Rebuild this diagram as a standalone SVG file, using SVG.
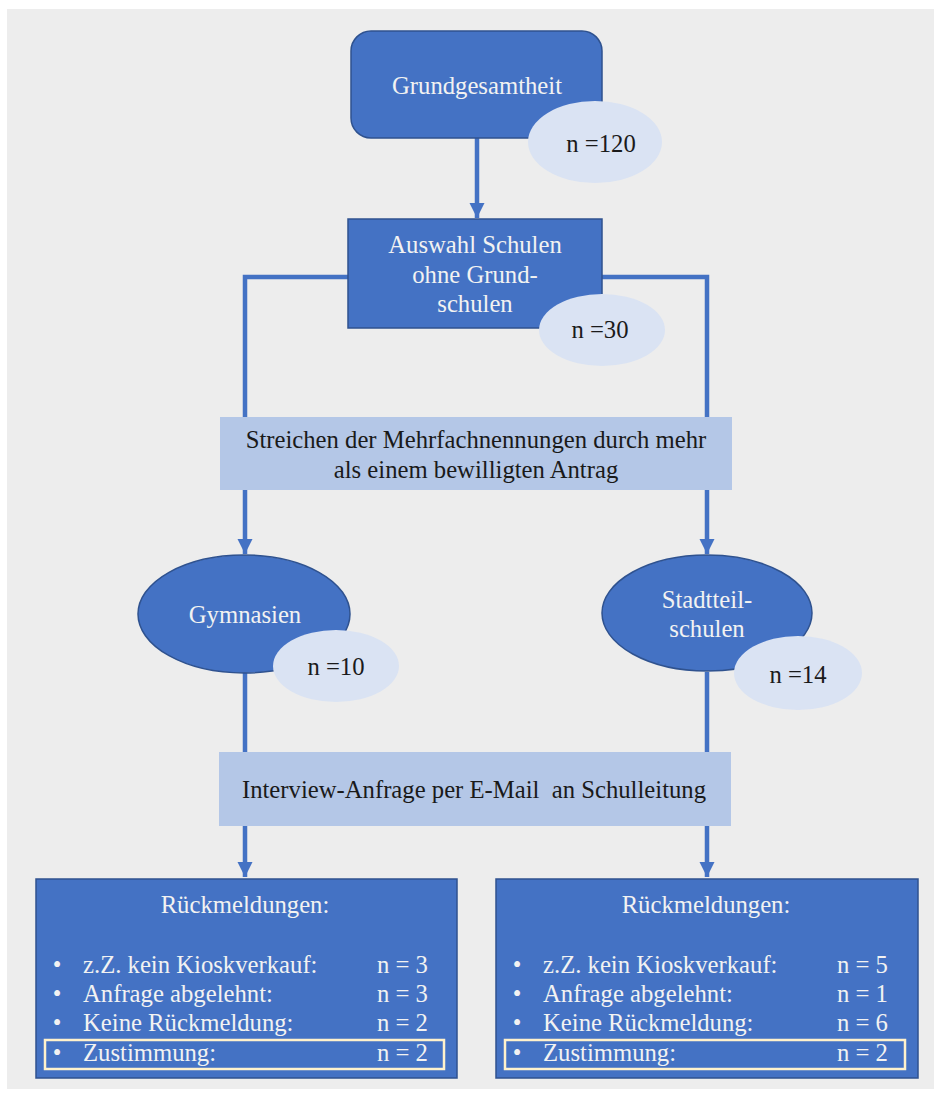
<svg xmlns="http://www.w3.org/2000/svg" width="941" height="1095" viewBox="0 0 941 1095" font-family="'Liberation Serif', 'Times New Roman', serif">
<defs>
<style>
.dark{fill:#4472C4;stroke:#2F528F;stroke-width:1.5}
.light{fill:#DAE3F3;stroke:none}
.band{fill:#B4C7E7;stroke:none}
.con{fill:none;stroke:#4472C4;stroke-width:4.5}
text{font-family:'Liberation Serif','Times New Roman',serif;font-size:24.7px}
.w{fill:#F2F2F2}
.k{fill:#1A1A1A}
.mid{text-anchor:middle}
.hl{fill:none;stroke:#FFF2CC;stroke-width:2.5}
</style>
<marker id="arr" viewBox="0 0 10 10" refX="10" refY="5" markerWidth="3.4" markerHeight="3.4" markerUnits="strokeWidth" orient="auto">
<path d="M0,0 L10,5 L0,10 z" fill="#4472C4"/>
</marker>
</defs>
<rect x="7" y="9" width="927" height="1080" fill="#EDEDED"/>
<g id="connectors">
<path class="con" d="M477,138 V218" marker-end="url(#arr)"/>
<path class="con" d="M348,277 H245 V554" marker-end="url(#arr)"/>
<path class="con" d="M602,277 H707 V554" marker-end="url(#arr)"/>
<path class="con" d="M245,673 V877" marker-end="url(#arr)"/>
<path class="con" d="M707,672 V877" marker-end="url(#arr)"/>
</g>
<g id="grundgesamtheit">
<rect class="dark" x="351" y="31" width="251" height="107" rx="20"/>
<text class="w mid" x="477" y="94">Grundgesamtheit</text>
<ellipse class="light" cx="595" cy="142" rx="67" ry="41"/>
<text class="k mid" x="601" y="152">n =120</text>
</g>
<g id="auswahl">
<rect class="dark" x="348" y="219" width="254" height="109"/>
<text class="w mid" x="475" y="253">Auswahl Schulen</text>
<text class="w mid" x="475" y="283">ohne Grund-</text>
<text class="w mid" x="475" y="312">schulen</text>
<ellipse class="light" cx="602" cy="330" rx="63" ry="36"/>
<text class="k mid" x="600" y="338">n =30</text>
</g>
<g id="streichen">
<rect class="band" x="220" y="417" width="512" height="73"/>
<text class="k mid" x="476" y="448">Streichen der Mehrfachnennungen durch mehr</text>
<text class="k mid" x="476" y="478">als einem bewilligten Antrag</text>
</g>
<g id="gymnasien">
<ellipse class="dark" cx="244" cy="614" rx="106" ry="59"/>
<text class="w mid" x="245" y="623">Gymnasien</text>
<ellipse class="light" cx="336" cy="666" rx="63" ry="36"/>
<text class="k mid" x="336" y="675">n =10</text>
</g>
<g id="stadtteilschulen">
<ellipse class="dark" cx="707" cy="613" rx="105" ry="58"/>
<text class="w mid" x="707" y="608">Stadtteil-</text>
<text class="w mid" x="707" y="637">schulen</text>
<ellipse class="light" cx="798" cy="673" rx="64" ry="37"/>
<text class="k mid" x="798" y="683">n =14</text>
</g>
<g id="interview">
<rect class="band" x="219" y="752" width="512" height="74"/>
<text class="k mid" x="474" y="798" xml:space="preserve">Interview-Anfrage per E-Mail  an Schulleitung</text>
</g>
<g id="rueckmeldungen-gymnasien">
<rect class="dark" x="36" y="879" width="421" height="199"/>
<text class="w mid" x="245" y="913">Rückmeldungen:</text>
<text class="w mid" x="57" y="973">•</text>
<text class="w" x="83" y="973">z.Z. kein Kioskverkauf:</text>
<text class="w" x="377" y="973">n = 3</text>
<text class="w mid" x="57" y="1002">•</text>
<text class="w" x="83" y="1002">Anfrage abgelehnt:</text>
<text class="w" x="377" y="1002">n = 3</text>
<text class="w mid" x="57" y="1031">•</text>
<text class="w" x="83" y="1031">Keine Rückmeldung:</text>
<text class="w" x="377" y="1031">n = 2</text>
<rect class="hl" x="45" y="1040" width="399" height="29"/>
<text class="w mid" x="57" y="1061">•</text>
<text class="w" x="83" y="1061">Zustimmung:</text>
<text class="w" x="377" y="1061">n = 2</text>
</g>
<g id="rueckmeldungen-stadtteilschulen">
<rect class="dark" x="496" y="879" width="422" height="199"/>
<text class="w mid" x="706" y="913">Rückmeldungen:</text>
<text class="w mid" x="517" y="973">•</text>
<text class="w" x="543" y="973">z.Z. kein Kioskverkauf:</text>
<text class="w" x="837" y="973">n = 5</text>
<text class="w mid" x="517" y="1002">•</text>
<text class="w" x="543" y="1002">Anfrage abgelehnt:</text>
<text class="w" x="837" y="1002">n = 1</text>
<text class="w mid" x="517" y="1031">•</text>
<text class="w" x="543" y="1031">Keine Rückmeldung:</text>
<text class="w" x="837" y="1031">n = 6</text>
<rect class="hl" x="505" y="1040" width="400" height="29"/>
<text class="w mid" x="517" y="1061">•</text>
<text class="w" x="543" y="1061">Zustimmung:</text>
<text class="w" x="837" y="1061">n = 2</text>
</g>
</svg>
